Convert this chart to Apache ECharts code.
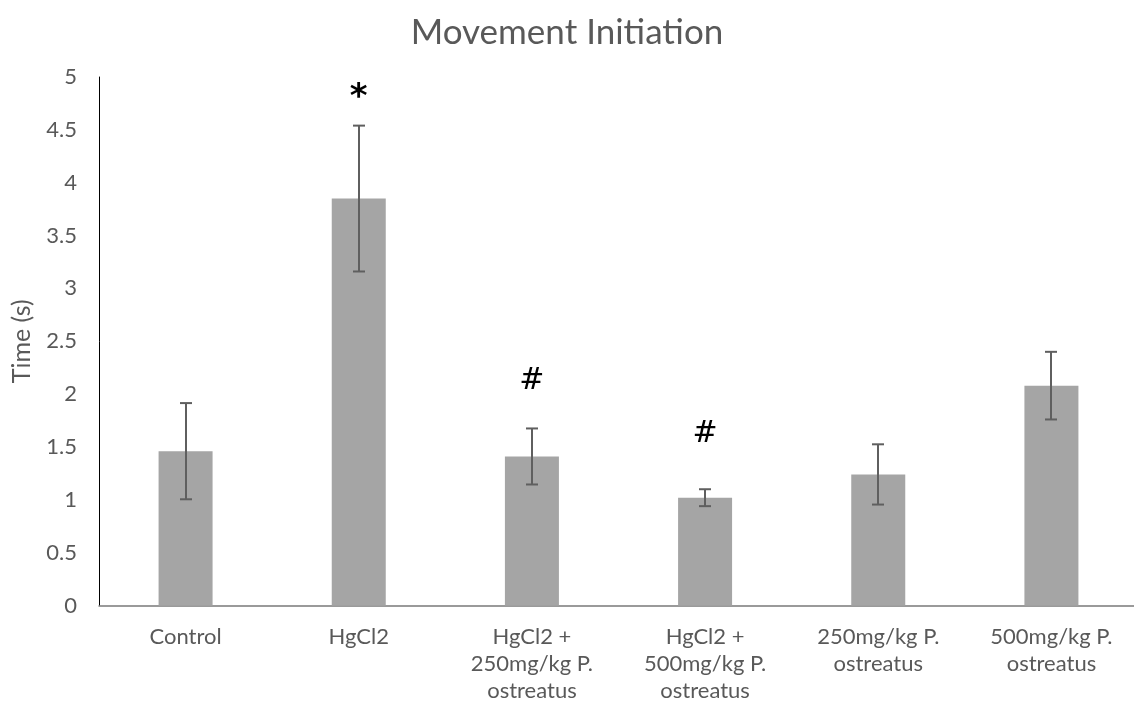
<!DOCTYPE html>
<html>
<head>
<meta charset="utf-8">
<script src="https://cdn.jsdelivr.net/npm/echarts@6/dist/echarts.min.js"></script>
<style>
  html, body { margin: 0; padding: 0; background: #fff; }
  #chart { width: 1134px; height: 710px; }
</style>
</head>
<body>
<div id="chart"></div>
<script>
// Treatment groups (axis labels wrap onto several lines)
const categories = [
  'Control',
  'HgCl2',
  'HgCl2 +\n250mg/kg P.\nostreatus',
  'HgCl2 +\n500mg/kg P.\nostreatus',
  '250mg/kg P.\nostreatus',
  '500mg/kg P.\nostreatus'
];
// Mean movement-initiation time (s)
const meanTime = [1.46, 3.85, 1.41, 1.02, 1.24, 2.08];
// Standard error of each mean (s)
const errTime = [0.455, 0.69, 0.265, 0.08, 0.285, 0.32];
// Significance markers placed above the error bars
const sigMarks = ['', '*', '#', '#', '', ''];
const yTicks = { min: 0, max: 5, interval: 0.5 };

const FONT = 'Lato';
const GREY_TEXT = '#595959';

// pixel lift of each marker above its error cap
const markLift = [0, 33, 47, 55, 0, 0];

const chart = echarts.init(document.getElementById('chart'), null, { renderer: 'canvas' });

chart.setOption({
  animation: false,
  backgroundColor: '#ffffff',
  title: {
    text: 'Movement Initiation',
    left: 'center',
    top: 10,
    textStyle: { fontFamily: FONT, fontSize: 35, fontWeight: 'normal', color: GREY_TEXT }
  },
  grid: {
    left: 99, top: 77, width: 1039, bottom: 104.5,
    containLabel: false,
    outerBoundsMode: 'none'
  },
  xAxis: {
    type: 'category',
    data: categories,
    axisTick: { show: false },
    axisLine: { lineStyle: { color: '#7a7a7a', width: 1.5 } },
    axisLabel: {
      interval: 0,
      margin: 18,
      fontFamily: FONT,
      fontSize: 22,
      lineHeight: 27,
      color: GREY_TEXT
    }
  },
  yAxis: {
    type: 'value',
    min: yTicks.min,
    max: yTicks.max,
    interval: yTicks.interval,
    name: 'Time (s)',
    nameLocation: 'middle',
    nameRotate: 90,
    nameGap: 65,
    nameTextStyle: { fontFamily: FONT, fontSize: 25, color: GREY_TEXT },
    splitLine: { show: false },
    axisTick: { show: false },
    axisLine: { show: true, lineStyle: { color: '#000000', width: 1 } },
    axisLabel: { margin: 22, fontFamily: FONT, fontSize: 22, color: GREY_TEXT }
  },
  series: [
    {
      type: 'bar',
      data: meanTime,
      barWidth: 54,
      itemStyle: { color: '#a5a5a5' }
    },
    {
      // error bars: vertical whisker with a short cap at each end
      type: 'custom',
      data: meanTime.map((m, i) => [i, m - errTime[i], m + errTime[i]]),
      z: 5,
      renderItem: function (params, api) {
        const i = api.value(0);
        const lo = api.coord([i, api.value(1)]);
        const hi = api.coord([i, api.value(2)]);
        const x = Math.round(lo[0]);
        const cap = 6;
        const style = { stroke: '#5f5f5f', lineWidth: 2 };
        return {
          type: 'group',
          children: [
            { type: 'line', shape: { x1: x, y1: hi[1], x2: x, y2: lo[1] }, style },
            { type: 'line', shape: { x1: x - cap, y1: hi[1], x2: x + cap, y2: hi[1] }, style },
            { type: 'line', shape: { x1: x - cap, y1: lo[1], x2: x + cap, y2: lo[1] }, style }
          ]
        };
      }
    },
    {
      // significance symbols
      type: 'custom',
      data: meanTime.map((m, i) => [i, m + errTime[i]]),
      z: 6,
      renderItem: function (params, api) {
        const i = params.dataIndex;
        if (!sigMarks[i]) return null;
        const p = api.coord([api.value(0), api.value(1)]);
        const star = sigMarks[i] === '*';
        return {
          type: 'text',
          style: {
            x: p[0],
            y: p[1] - markLift[i] + (star ? 6 : 0),
            text: sigMarks[i],
            align: 'center',
            verticalAlign: 'middle',
            fill: '#000000',
            font: star ? 'bold 34px "DejaVu Sans"' : 'italic 30px "DejaVu Serif"'
          }
        };
      }
    }
  ]
});
</script>
</body>
</html>
